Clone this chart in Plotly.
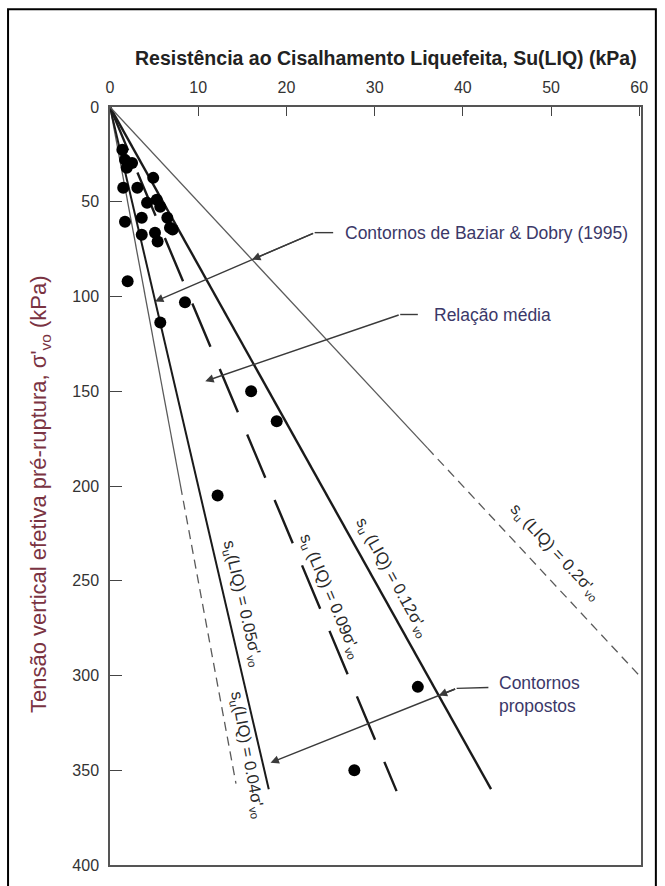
import plotly.graph_objects as go

# ---------------- data ----------------
su_obs = [1.4, 1.7, 2.5, 1.9, 4.9, 1.5, 3.1, 4.2, 5.3, 5.7, 1.7, 3.6, 6.5, 6.8,
          3.6, 5.1, 5.4, 7.1, 2.0, 8.5, 5.7, 16.0, 18.9, 12.2, 34.9, 27.7]
sv_obs = [22.6, 27.9, 29.5, 32.0, 37.4, 42.6, 42.6, 50.5, 49.0, 52.6, 60.5, 58.4, 58.4, 63.7,
          67.4, 66.3, 71.0, 64.7, 92.0, 103.0, 113.7, 150.0, 165.8, 205.0, 306.0, 350.0]

ratios = [0.04, 0.05, 0.09, 0.12, 0.2]
ratio_end_sv = [357, 360, 361, 360, 300]
ratio_solid_to = [200, None, None, None, 180]   # Baziar & Dobry lines: solid then dashed
ratio_labels = ["0.04", "0.05", "0.09", "0.12", "0.2"]

x_ticks = [0, 10, 20, 30, 40, 50, 60]
y_ticks = [0, 50, 100, 150, 200, 250, 300, 350, 400]

fig = go.Figure()

ARIAL = "Liberation Sans, Arial, sans-serif"

# ---------------- contour lines ----------------
styles = {
    0.04: dict(color="#5a5a5a", width=1.3),
    0.05: dict(color="#1a1a1a", width=2.0),
    0.09: dict(color="#1a1a1a", width=2.4, dash="47px,24px"),
    0.12: dict(color="#1a1a1a", width=2.4),
    0.2: dict(color="#5a5a5a", width=1.3),
}
for r, s_end, s_solid in zip(ratios, ratio_end_sv, ratio_solid_to):
    st = styles[r]
    if s_solid is None:
        fig.add_trace(go.Scatter(x=[0, r * s_end], y=[0, s_end], mode="lines",
                                 line=st, showlegend=False, hoverinfo="skip"))
    else:
        fig.add_trace(go.Scatter(x=[0, r * s_solid], y=[0, s_solid], mode="lines",
                                 line=st, showlegend=False, hoverinfo="skip"))
        fig.add_trace(go.Scatter(x=[r * s_solid, r * s_end], y=[s_solid, s_end], mode="lines",
                                 line=dict(st, dash="9px,6px"), showlegend=False, hoverinfo="skip"))

# ---------------- observations ----------------
fig.add_trace(go.Scatter(x=su_obs, y=sv_obs, mode="markers",
                         marker=dict(color="black", size=12, line=dict(width=0)),
                         showlegend=False, hoverinfo="skip"))

# ---------------- line labels ----------------
label_pos = {0.12: (32.0, 248.0, 61), 0.09: (25.0, 258.0, 67), 0.05: (15.0, 262.0, 77),
             0.04: (15.6, 342.0, 79.5), 0.2: (50.5, 235.0, 47)}
for r, lab in zip(ratios, ratio_labels):
    xx, yy, ang = label_pos[r]
    sep = "" if r in (0.04, 0.05) else " "
    fig.add_annotation(x=xx, y=yy, xref="x", yref="y", showarrow=False, textangle=ang,
                       text=f"s<sub>u</sub>{sep}(LIQ) = {lab}σ'<sub>vo</sub>",
                       font=dict(family=ARIAL, size=16.5, color="#2a2a2a"))

# ---------------- leader annotations ----------------
ANN_COLOR = "#3b3868"


def crossing(p0, p1, r):
    # intersection of segment p0->p1 with line x = r*y
    (x0, y0), (x1, y1) = p0, p1
    t = (r * y0 - x0) / ((x1 - x0) - r * (y1 - y0))
    return x0 + t * (x1 - x0), y0 + t * (y1 - y0)


leaders = [
    dict(text="Contornos de Baziar & Dobry (1995)", tx=26.4, ty=66.3,
         pts=[(25.3, 66.3), (23.2, 66.3), (5.1, 102.6)], mid=0.2),
    dict(text="Relação média", tx=36.5, ty=110.0,
         pts=[(34.9, 109.5), (32.9, 109.5), (10.8, 144.7)], mid=None),
    dict(text="Contornos<br>propostos", tx=43.9, ty=310.0,
         pts=[(42.9, 306.3), (39.3, 306.8), (18.2, 346.0)], mid=0.12),
]
for L in leaders:
    fig.add_annotation(x=L["tx"], y=L["ty"], xref="x", yref="y", showarrow=False,
                       xanchor="left", yanchor="middle", align="left",
                       text=L["text"], font=dict(family=ARIAL, size=17.5, color=ANN_COLOR))
    (ax0, ay0), (ax1, ay1), (ex, ey) = L["pts"]
    fig.add_shape(type="line", xref="x", yref="y", x0=ax0, y0=ay0, x1=ax1, y1=ay1,
                  line=dict(color="#3a3a3a", width=1.4))
    fig.add_annotation(x=ex, y=ey, ax=ax1, ay=ay1, xref="x", yref="y", axref="x", ayref="y",
                       text="", showarrow=True, arrowhead=2, arrowsize=1.2, arrowwidth=1.4,
                       arrowcolor="#3a3a3a", standoff=0)
    if L["mid"] is not None:
        cx, cy = crossing((ax1, ay1), (ex, ey), L["mid"])
        fig.add_annotation(x=cx, y=cy, ax=ax1, ay=ay1, xref="x", yref="y", axref="x", ayref="y",
                           text="", showarrow=True, arrowhead=2, arrowsize=1.2, arrowwidth=1.4,
                           arrowcolor="#3a3a3a", standoff=0)

# ---------------- title / y-label ----------------
fig.add_annotation(x=0.5, y=1.0, xref="paper", yref="paper", yshift=49, yanchor="middle",
                   xshift=10, showarrow=False,
                   text="<b>Resistência ao Cisalhamento Liquefeita, Su(LIQ) (kPa)</b>",
                   font=dict(family=ARIAL, size=19.5, color="#222222"))
fig.add_annotation(x=0, y=0.5, xref="paper", yref="paper", xshift=-70, yshift=-8,
                   xanchor="center", yanchor="middle", showarrow=False, textangle=-90,
                   text="Tensão vertical efetiva pré-ruptura, σ'<sub>vo</sub> (kPa)",
                   font=dict(family=ARIAL, size=22, color="#7a3342"))

# outer border
fig.add_shape(type="rect", xref="paper", yref="paper", x0=-0.192, x1=1.028, y0=-0.2, y1=1.129,
              line=dict(color="black", width=2), layer="above")

fig.update_layout(
    width=665, height=886,
    margin=dict(l=110, r=24, t=107, b=19),
    paper_bgcolor="white", plot_bgcolor="white",
    xaxis=dict(side="top", range=[0, 60.2], tickvals=x_ticks, ticks="inside", ticklen=9,
               tickcolor="#444", showgrid=False, zeroline=False, showline=True,
               linecolor="#555", linewidth=1.5, mirror=True, ticklabelstandoff=6,
               tickfont=dict(family=ARIAL, size=16, color="#333")),
    yaxis=dict(range=[400, 0], tickvals=y_ticks, ticks="inside", ticklen=12,
               tickcolor="#444", showgrid=False, zeroline=False, showline=True,
               linecolor="#555", linewidth=1.5, mirror=True, ticklabelstandoff=6,
               tickfont=dict(family=ARIAL, size=16, color="#333")),
)

fig.write_html("out.html")
